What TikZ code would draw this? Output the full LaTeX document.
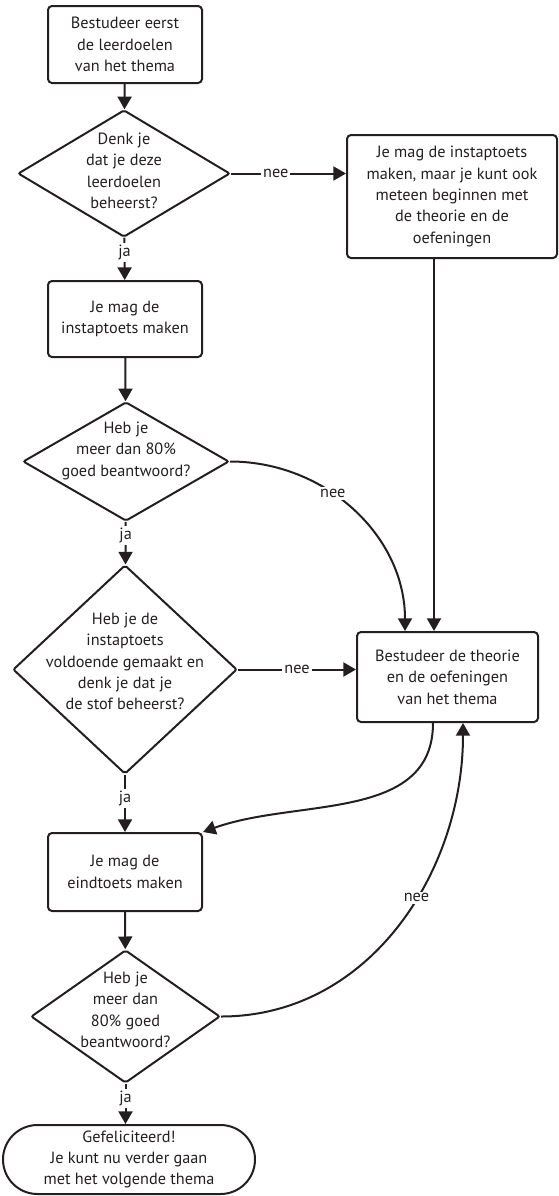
\documentclass[tikz,border=0pt]{standalone}
\usepackage{fontspec}
\setmainfont{PT Sans}
\usetikzlibrary{shapes.geometric,shapes.misc,arrows.meta}
\definecolor{inkt}{HTML}{231F20}

\tikzset{
  stap/.style={draw=inkt, line width=1.5pt, rounded corners=3pt, align=center, inner sep=0pt},
  keuze/.style={draw=inkt, line width=1.5pt, diamond, rounded corners=1.5pt, inner sep=0pt},
  slotvorm/.style={draw=inkt, line width=1.5pt, rounded rectangle, align=center, inner sep=0pt},
  pijl/.style={draw=inkt, line width=1.5pt, -{Triangle[length=9.5pt,width=10.5pt]}},
  antw/.style={fill=white, inner sep=1.5pt},
}

\begin{document}
\begin{tikzpicture}[x=0.75pt, y=-0.75pt, text=inkt, font=\fontsize{12.2pt}{16pt}\selectfont]
\useasboundingbox (0,0) rectangle (559,1196);

\node[stap, minimum width=115.5pt, minimum height=57.75pt] (leer) at (125,44.5) {Bestudeer eerst\\de leerdoelen\\van het thema};
\node[keuze, minimum width=159pt, minimum height=95.25pt,
      label={[align=center, yshift=2pt]center:Denk je\\dat je deze\\leerdoelen\\beheerst?}] (beheers) at (124,173.5) {};
\node[stap, minimum width=157.5pt, minimum height=92.25pt] (magook) at (452,196.5)
      {Je mag de instaptoets\\maken, maar je kunt ook\\meteen beginnen met\\de theorie en de\\oefeningen};
\node[stap, minimum width=115.5pt, minimum height=57pt] (instap) at (125,319) {Je mag de\\instaptoets maken};
\node[keuze, minimum width=154.5pt, minimum height=89.25pt,
      label={[align=center, yshift=8pt]center:Heb je\\meer dan 80\%\\goed beantwoord?}] (score1) at (126,461.5) {};
\node[keuze, minimum width=168pt, minimum height=156.75pt,
      label={[align=center, yshift=6pt]center:Heb je de\\instaptoets\\voldoende gemaakt en\\denk je dat je\\de stof beheerst?}] (stof) at (125,669.5) {};
\node[stap, minimum width=135.75pt, minimum height=67.5pt] (theorie) at (447.5,677)
      {Bestudeer de theorie\\en de oefeningen\\van het thema};
\node[stap, minimum width=115.5pt, minimum height=58.5pt] (eindtoets) at (125,872) {Je mag de\\eindtoets maken};
\node[keuze, minimum width=141.75pt, minimum height=99.75pt,
      label={[align=center, yshift=5pt]center:Heb je\\meer dan\\80\% goed\\beantwoord?}] (score2) at (125.5,1016.5) {};
\node[slotvorm, minimum width=189pt, minimum height=51.75pt] (klaar) at (129,1159.5)
      {Gefeliciteerd!\\Je kunt nu verder gaan\\met het volgende thema};

\draw[pijl] (leer) -- (beheers);
\draw[pijl] (beheers.east) -- node[antw, pos=0.39] {nee} (beheers.east -| magook.west);
\draw[pijl] (beheers) -- node[antw, pos=0.36] {ja} (instap);
\draw[pijl] (instap) -- (score1);
\draw[pijl] (score1.east) to[out=0, in=90] node[antw, pos=0.4] {nee} (theorie.north -| 405,0);
\draw[pijl] (magook.south -| 434,0) -- (theorie.north -| 434,0);
\draw[pijl] (score1) -- node[antw, pos=0.32] {ja} (stof);
\draw[pijl] (stof.east) -- node[antw] {nee} (stof.east -| theorie.west);
\draw[pijl] (stof) -- node[antw, pos=0.42] {ja} (eindtoets);
\draw[pijl] (theorie.south -| 433,0) to[out=-90, in=20] (eindtoets.north east);
\draw[pijl] (eindtoets) -- (score2);
\draw[pijl] (score2.east) to[out=0, in=-90] node[antw, pos=0.58] {nee} (theorie.south -| 463,0);
\draw[pijl] (score2.south) -- node[antw, pos=0.36] {ja} (score2.south |- klaar.north);
\end{tikzpicture}
\end{document}
